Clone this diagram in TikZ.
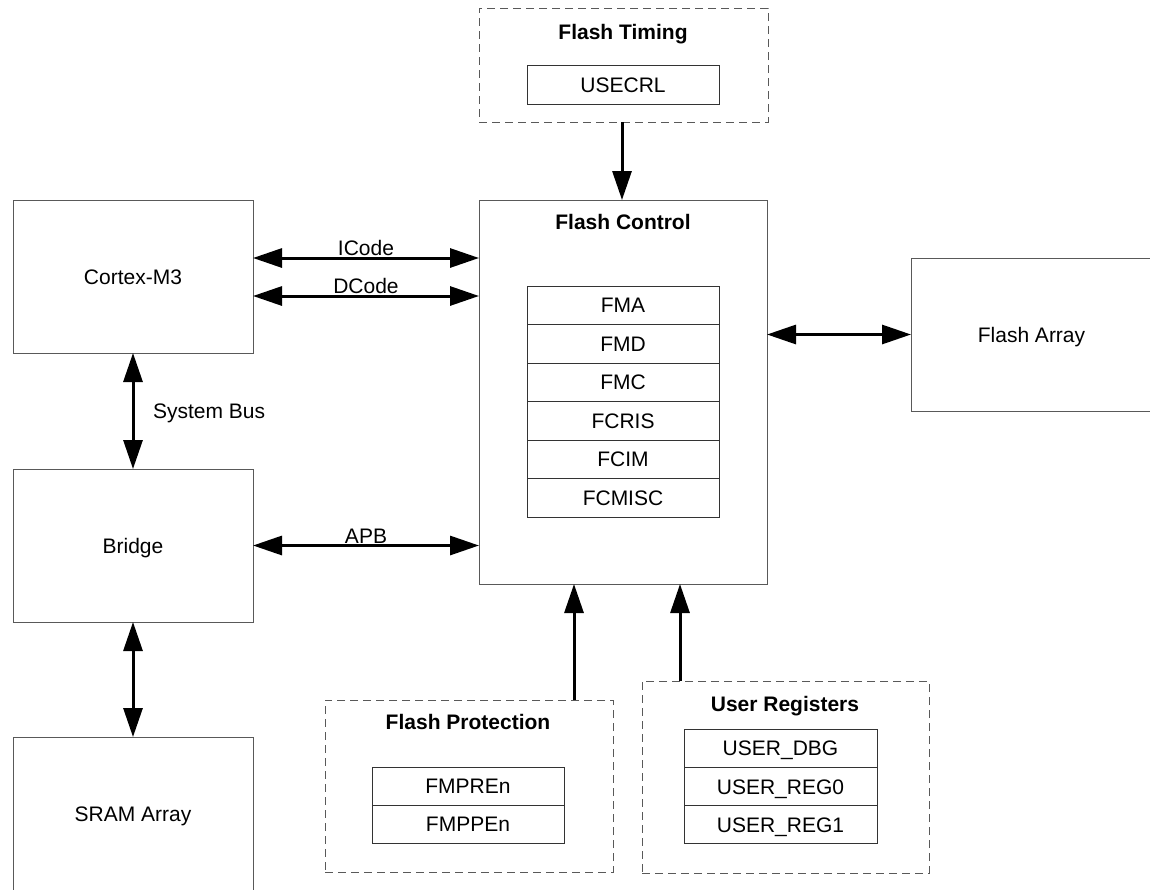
\documentclass[tikz,border=0pt]{standalone}
\usepackage{fontspec}
\setmainfont{Liberation Sans}
\usetikzlibrary{arrows.meta}
\newcommand{\diagfont}{\fontsize{21}{25}\selectfont}
\begin{document}
\begin{tikzpicture}[x=1pt,y=-1pt,
  every node/.style={inner sep=0pt,outer sep=0pt,text height=15pt,text depth=0pt,font=\diagfont},
  blk/.style={draw=black!65,line width=1pt,minimum width=240pt,minimum height=153pt},
  grp/.style={draw=black!65,line width=1pt,dash pattern=on 8pt off 5pt},
  reg/.style={draw=black!80,line width=1pt,minimum width=192pt,minimum height=38.5pt},
  ttl/.style={font=\diagfont\bfseries},
  bi/.style={line width=3pt,{Triangle[length=29pt,width=19pt]}-{Triangle[length=29pt,width=19pt]}},
  uni/.style={line width=3pt,-{Triangle[length=29pt,width=19pt]}}
]
\useasboundingbox (0,0) rectangle (1150,889);

% main blocks
\node[blk] (cortex) at (133,276.5) {Cortex-M3};
\node[blk] (bridge) at (133,545.5) {Bridge};
\node[blk,minimum height=154pt] (sram) at (133,814) {SRAM Array};
\node[blk,minimum width=241pt] (fa) at (1031.5,334.5) {Flash Array};
\node[blk,minimum width=288pt,minimum height=384pt] (fc) at (623,392) {};
\node[ttl] (fctitle) at (623,222) {Flash Control};

% flash control registers
\node[reg] (fma) at (623,305.25) {FMA};
\node[reg] (fmd) at (623,343.75) {FMD};
\node[reg] (fmc) at (623,382.25) {FMC};
\node[reg] (fcris) at (623,420.75) {FCRIS};
\node[reg] (fcim) at (623,459.25) {FCIM};
\node[reg] (fcmisc) at (623,497.75) {FCMISC};

% flash timing
\node[grp,minimum width=289pt,minimum height=114pt] (ft) at (623.5,65) {};
\node[ttl] (fttitle) at (623,32) {Flash Timing};
\node[reg,minimum height=39pt] (usecrl) at (623,84.5) {USECRL};

% flash protection
\node[grp,minimum width=288pt,minimum height=172pt] (fp) at (469,786) {};
\node[ttl] (fptitle) at (468,722) {Flash Protection};
\node[reg,minimum height=38pt] (fmpre) at (468,786) {FMPREn};
\node[reg,minimum height=38pt] (fmppe) at (468,824) {FMPPEn};

% user registers
\node[grp,minimum width=287pt,minimum height=192pt] (ur) at (785.5,777) {};
\node[ttl] (urtitle) at (785,704) {User Registers};
\node[reg,minimum width=193pt,minimum height=38.3pt] (udbg) at (780.5,748.2) {USER\_DBG};
\node[reg,minimum width=193pt,minimum height=38.3pt] (ureg0) at (780.5,786.5) {USER\_REG0};
\node[reg,minimum width=193pt,minimum height=38.3pt] (ureg1) at (780.5,824.8) {USER\_REG1};

% connectors
\draw[bi] ([yshift=-58pt]cortex.north east) coordinate (ic) -- (ic -| fc.west)
  node[midway,above=2.5pt] (icl) {ICode};
\draw[bi] ([yshift=-96pt]cortex.north east) coordinate (dc) -- (dc -| fc.west)
  node[midway,above=2.5pt] (dcl) {DCode};
\draw[bi] (bridge.east) -- (bridge.east -| fc.west)
  node[midway,above=2.5pt] (apbl) {APB};
\draw[bi] (fc.east |- fa.west) -- (fa.west);
\draw[bi] (cortex.south) -- (bridge.north)
  node[midway,right=20pt] (sbl) {System Bus};
\draw[bi] (bridge.south) -- (sram.north);
\draw[uni] ([xshift=-1.5pt]ft.south) coordinate (fts) -- (fts |- fc.north);
\draw[uni] ([xshift=105pt]fp.north) coordinate (fpn) -- (fpn |- fc.south);
\draw[uni] ([xshift=-105.5pt]ur.north) coordinate (urn) -- (urn |- fc.south);
\end{tikzpicture}
\end{document}
